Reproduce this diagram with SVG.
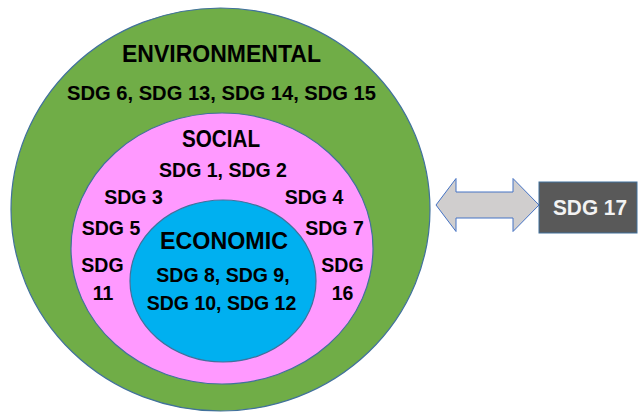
<svg xmlns="http://www.w3.org/2000/svg" width="641" height="413" viewBox="0 0 641 413">
  <style>
    .ring { stroke: #41719c; stroke-width: 1.2; }
    .title { font-family: "Liberation Sans", Arial, sans-serif; font-weight: bold; font-size: 23px; fill: #000; text-anchor: middle; }
    .sdg { font-family: "Liberation Sans", Arial, sans-serif; font-weight: bold; font-size: 19.5px; fill: #000; text-anchor: middle; }
    .box-label { font-family: "Liberation Sans", Arial, sans-serif; font-weight: bold; font-size: 22px; fill: #f2f2f2; text-anchor: middle; }
  </style>
  <rect width="641" height="413" fill="#ffffff"/>

  <!-- Outer ring: environmental goals -->
  <g id="environmental">
    <ellipse class="ring" cx="220.5" cy="209.5" rx="209.5" ry="201.5" fill="#70ad47"/>
    <text class="title" x="221.5" y="62" textLength="199" lengthAdjust="spacingAndGlyphs">ENVIRONMENTAL</text>
    <text class="sdg" x="221.5" y="99.5" textLength="309" lengthAdjust="spacingAndGlyphs">SDG 6, SDG 13, SDG 14, SDG 15</text>
  </g>

  <!-- Middle ring: social goals -->
  <g id="social">
    <ellipse class="ring" cx="222" cy="248.5" rx="151" ry="135.5" fill="#ff99ff"/>
    <text class="title" x="221" y="146.5" textLength="78" lengthAdjust="spacingAndGlyphs">SOCIAL</text>
    <text class="sdg" x="223" y="177">SDG 1, SDG 2</text>
    <text class="sdg" x="133.5" y="204">SDG 3</text>
    <text class="sdg" x="314" y="204">SDG 4</text>
    <text class="sdg" x="111" y="235">SDG 5</text>
    <text class="sdg" x="334.5" y="235">SDG 7</text>
    <text class="sdg" x="102.5" y="272">SDG</text>
    <text class="sdg" x="103" y="300">11</text>
    <text class="sdg" x="342.5" y="272">SDG</text>
    <text class="sdg" x="342.5" y="300">16</text>
  </g>

  <!-- Inner core: economic goals -->
  <g id="economic">
    <ellipse class="ring" cx="223" cy="281" rx="93" ry="81" fill="#00b0f0"/>
    <text class="title" x="224" y="249" textLength="128" lengthAdjust="spacingAndGlyphs">ECONOMIC</text>
    <text class="sdg" x="223" y="282">SDG 8, SDG 9,</text>
    <text class="sdg" x="221.5" y="310">SDG 10, SDG 12</text>
  </g>

  <!-- Partnership goal -->
  <g id="sdg17">
    <rect x="539" y="182" width="98" height="51" fill="#595959" stroke="#41719c" stroke-width="1"/>
    <text class="box-label" x="590" y="215" textLength="74" lengthAdjust="spacingAndGlyphs">SDG 17</text>
  </g>

  <!-- Two-way link between the rings and SDG 17 -->
  <g id="connectors">
    <polygon points="436,205 456,178.5 456,192 513,192 513,178.5 539,205 513,231.5 513,218 456,218 456,231.5"
             fill="#d0cece" stroke="#4472c4" stroke-width="1" stroke-linejoin="miter"/>
  </g>
</svg>
